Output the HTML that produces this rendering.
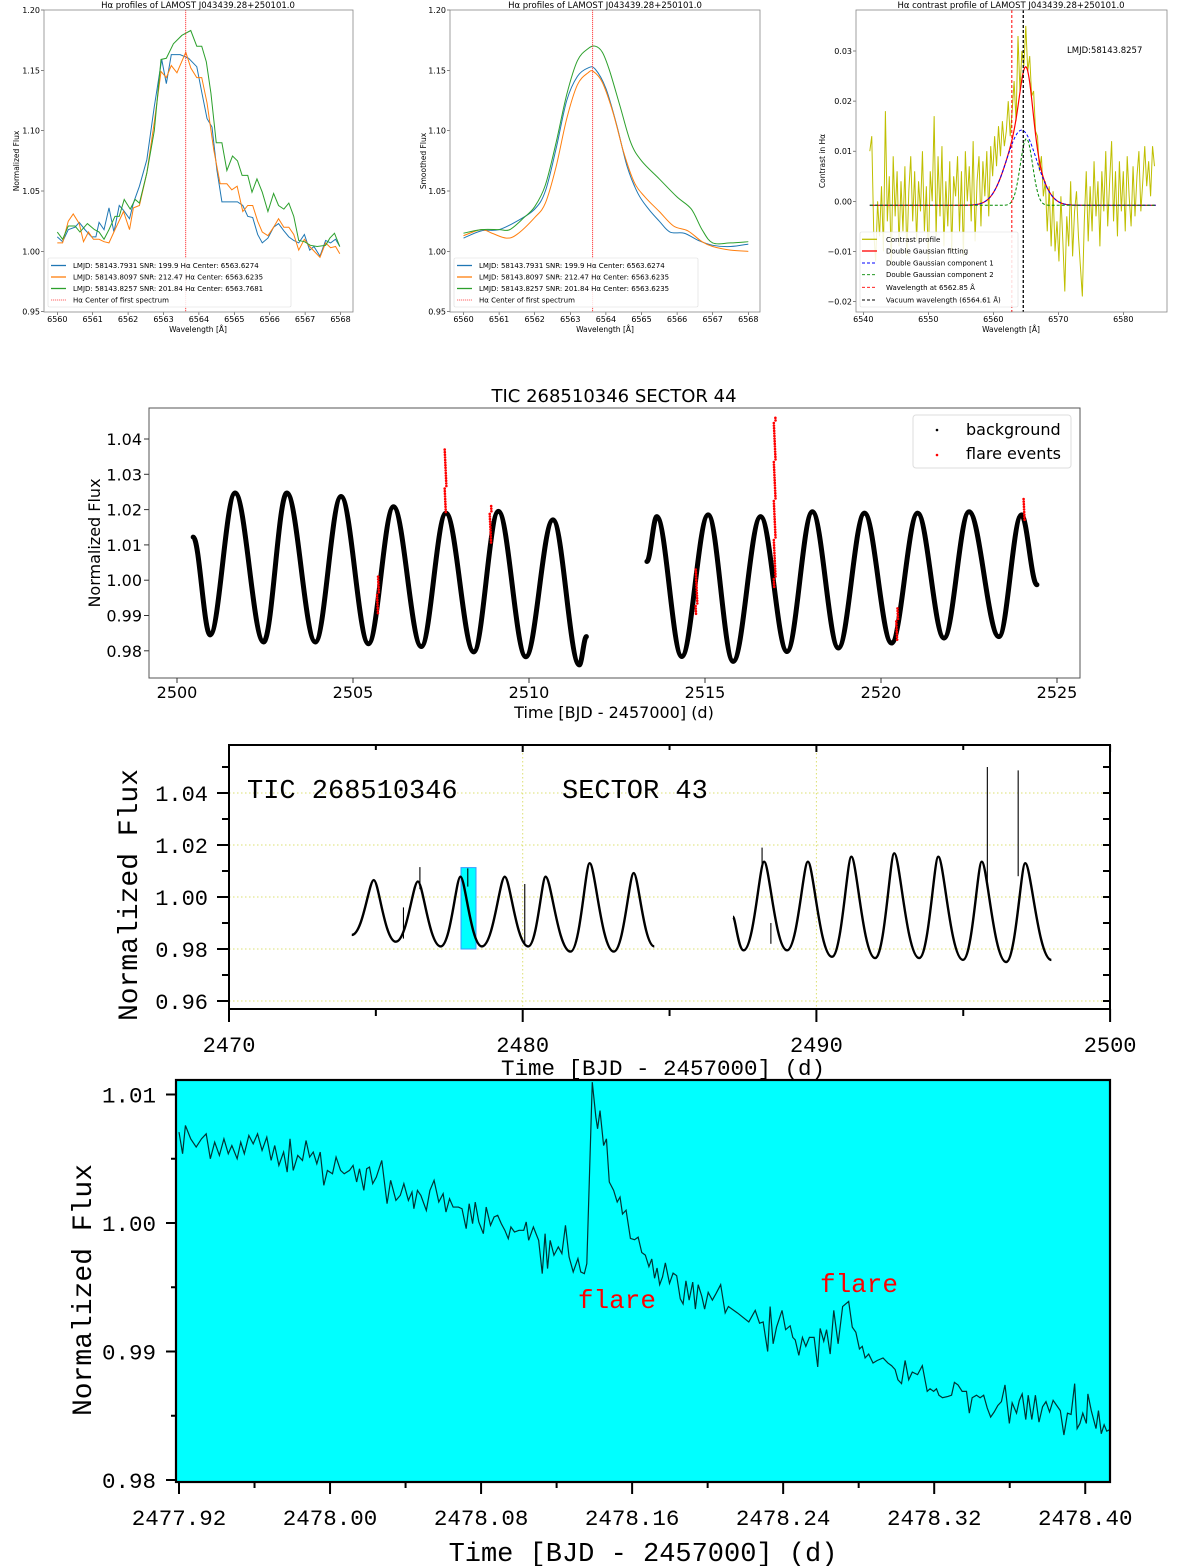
<!DOCTYPE html>
<html><head><meta charset="utf-8">
<style>
html,body{margin:0;padding:0;background:#fff;}
svg{display:block;}
.dj{font-family:"DejaVu Sans","Liberation Sans",sans-serif;}
.mo{font-family:"Liberation Mono","Noto Sans CJK SC",monospace;}
</style></head>
<body>
<svg id="fig" width="1200" height="1566" viewBox="0 0 1200 1566" xmlns="http://www.w3.org/2000/svg">
<rect width="1200" height="1566" fill="#fff"/>
<g>
<text class="dj" x="198" y="8" font-size="8.5" text-anchor="middle">Hα profiles of LAMOST J043439.28+250101.0</text>
<text class="dj" x="198" y="332" font-size="7.5" text-anchor="middle">Wavelength [Å]</text>
<text class="dj" font-size="7.5" text-anchor="middle" transform="translate(19,161) rotate(-90)">Normalized Flux</text>
</g>
<g>
<text class="dj" x="605" y="8" font-size="8.5" text-anchor="middle">Hα profiles of LAMOST J043439.28+250101.0</text>
<text class="dj" x="605" y="332" font-size="7.5" text-anchor="middle">Wavelength [Å]</text>
<text class="dj" font-size="7.5" text-anchor="middle" transform="translate(426,161) rotate(-90)">Smoothed Flux</text>
</g>
<g>
<text class="dj" x="1011" y="8" font-size="8.5" text-anchor="middle">Hα contrast profile of LAMOST J043439.28+250101.0</text>
<text class="dj" x="1011" y="332" font-size="7.5" text-anchor="middle">Wavelength [Å]</text>
<text class="dj" font-size="7.5" text-anchor="middle" transform="translate(825,161) rotate(-90)">Contrast in Hα</text>
<text class="dj" x="1067" y="53" font-size="8.5">LMJD:58143.8257</text>
</g>
<g>
<text class="dj" x="614" y="402" font-size="18" text-anchor="middle">TIC 268510346 SECTOR 44</text>
<text class="dj" x="614" y="718" font-size="16" text-anchor="middle">Time [BJD - 2457000] (d)</text>
<text class="dj" font-size="16" text-anchor="middle" transform="translate(100,543) rotate(-90)">Normalized Flux</text>
</g>
<g>
<text class="mo" x="663" y="1075" font-size="22.5" text-anchor="middle">Time [BJD - 2457000] (d)</text>
<text class="mo" font-size="28" text-anchor="middle" transform="translate(137,895) rotate(-90)">Normalized Flux</text>
</g>
<g>
<text class="mo" x="643" y="1561" font-size="27" text-anchor="middle">Time [BJD - 2457000] (d)</text>
<text class="mo" font-size="28" text-anchor="middle" transform="translate(91,1290) rotate(-90)">Normalized Flux</text>
</g>
</svg>
<script>
// ---------- DATA ----------
const p1BlueW=[6560.0,6560.15,6560.31,6560.5,6560.62,6560.78,6560.97,6561.09,6561.18,6561.32,6561.46,6561.6,6561.75,6561.87,6562.04,6562.15,6562.32,6562.53,6562.74,6562.95,6563.08,6563.22,6563.47,6563.71,6563.94,6564.08,6564.23,6564.37,6564.51,6564.65,6564.79,6565.09,6565.24,6565.38,6565.52,6565.66,6565.79,6565.95,6566.11,6566.25,6566.4,6566.54,6566.68,6566.82,6566.98,6567.13,6567.25,6567.42,6567.58,6567.72,6567.86,6567.98];
const p1BlueF=[1.012,1.008,1.018,1.020,1.024,1.018,1.012,1.012,1.024,1.018,1.036,1.016,1.038,1.034,1.027,1.040,1.054,1.076,1.120,1.159,1.139,1.163,1.163,1.160,1.153,1.132,1.110,1.103,1.067,1.041,1.041,1.041,1.038,1.029,1.028,1.014,1.007,1.011,1.020,1.023,1.017,1.012,1.009,1.007,1.014,1.001,1.004,0.996,1.009,1.007,1.010,1.004];
const p1OrangeW=[6560.0,6560.15,6560.31,6560.45,6560.62,6560.74,6560.88,6561.02,6561.18,6561.32,6561.46,6561.63,6561.87,6562.04,6562.15,6562.32,6562.53,6562.74,6562.93,6563.08,6563.22,6563.38,6563.63,6563.77,6563.94,6564.08,6564.23,6564.42,6564.6,6564.79,6564.93,6565.08,6565.24,6565.38,6565.52,6565.66,6565.79,6565.95,6566.11,6566.25,6566.4,6566.54,6566.68,6566.82,6566.98,6567.13,6567.42,6567.58,6567.72,6567.86,6567.98];
const p1OrangeF=[1.007,1.007,1.025,1.031,1.023,1.008,1.016,1.010,1.010,1.008,1.007,1.018,1.033,1.018,1.036,1.038,1.065,1.107,1.149,1.144,1.154,1.148,1.165,1.152,1.144,1.144,1.123,1.084,1.056,1.056,1.051,1.054,1.033,1.038,1.038,1.025,1.016,1.013,1.020,1.027,1.020,1.020,1.014,1.001,1.010,1.004,0.995,1.007,1.003,1.004,0.998];
const p1GreenW=[6560.0,6560.15,6560.31,6560.5,6560.64,6560.85,6561.05,6561.18,6561.32,6561.46,6561.63,6561.75,6561.89,6562.06,6562.2,6562.32,6562.53,6562.74,6562.93,6563.08,6563.28,6563.52,6563.77,6563.94,6564.08,6564.21,6564.34,6564.49,6564.65,6564.79,6564.95,6565.09,6565.22,6565.38,6565.5,6565.64,6565.79,6565.95,6566.11,6566.25,6566.4,6566.54,6566.68,6566.82,6566.98,6567.15,6567.34,6567.58,6567.7,6567.83,6567.98];
const p1GreenF=[1.016,1.010,1.021,1.021,1.016,1.023,1.018,1.016,1.010,1.018,1.029,1.029,1.043,1.035,1.043,1.040,1.065,1.100,1.159,1.160,1.172,1.179,1.183,1.170,1.170,1.157,1.131,1.090,1.090,1.067,1.079,1.075,1.063,1.063,1.049,1.060,1.049,1.033,1.048,1.038,1.035,1.040,1.029,1.009,1.008,1.005,1.004,1.005,1.011,1.015,1.004];
const p1Center=6563.6274;
const p2BlueW=[6560,6560.5,6561,6561.5,6562,6562.3,6562.6,6562.9,6563.2,6563.5,6563.7,6564,6564.3,6564.6,6564.9,6565.2,6565.5,6565.8,6566.2,6566.6,6567,6567.5,6568];
const p2BlueF=[1.011,1.017,1.018,1.025,1.035,1.05,1.085,1.125,1.145,1.152,1.151,1.135,1.105,1.07,1.048,1.035,1.025,1.016,1.015,1.009,1.005,1.004,1.006];
const p2OrangeW=[6560,6560.5,6560.8,6561.2,6561.5,6562,6562.3,6562.6,6562.9,6563.2,6563.5,6563.65,6563.9,6564.2,6564.5,6564.8,6565.1,6565.5,6565.9,6566.3,6566.7,6567,6567.5,6568];
const p2OrangeF=[1.013,1.018,1.015,1.011,1.014,1.028,1.04,1.07,1.11,1.138,1.148,1.149,1.14,1.115,1.082,1.057,1.045,1.033,1.021,1.017,1.008,1.004,1.001,1.000];
const p2GreenW=[6560,6560.5,6561,6561.3,6561.7,6562,6562.3,6562.6,6562.9,6563.2,6563.5,6563.7,6563.9,6564.1,6564.4,6564.7,6565,6565.5,6566,6566.4,6566.7,6567,6567.5,6568];
const p2GreenF=[1.015,1.018,1.018,1.018,1.028,1.037,1.055,1.09,1.13,1.158,1.168,1.170,1.165,1.15,1.12,1.09,1.075,1.06,1.045,1.035,1.018,1.007,1.007,1.008];
const c3Start=6541.0, c3Step=0.3;
const c3Values=[0.010,0.013,-0.006,-0.012,0.000,-0.007,0.003,-0.010,0.018,-0.004,0.005,-0.013,0.009,-0.003,0.006,-0.009,0.004,-0.006,0.007,-0.011,0.002,0.009,-0.004,0.006,-0.008,0.004,-0.002,0.010,-0.006,0.003,-0.012,0.006,0.000,0.017,-0.007,0.009,-0.003,0.011,-0.009,0.004,-0.005,0.008,-0.010,0.005,0.001,0.009,-0.006,0.006,-0.011,0.010,0.000,0.007,-0.004,0.012,-0.008,0.004,0.009,-0.005,0.008,0.001,0.010,-0.003,0.011,0.005,0.013,0.007,0.015,0.009,0.016,0.011,0.014,0.020,0.013,0.018,0.024,0.016,0.033,0.022,0.030,0.027,0.035,0.026,0.029,0.021,0.022,0.014,0.013,0.006,0.009,0.001,0.004,-0.006,0.003,-0.009,0.002,-0.010,-0.004,-0.012,0.001,-0.008,-0.018,-0.003,-0.009,0.004,-0.011,-0.002,0.002,-0.007,-0.013,-0.019,-0.004,0.006,-0.008,0.003,-0.006,0.008,-0.003,0.004,-0.009,0.006,-0.002,0.010,-0.005,0.004,0.012,-0.004,0.006,-0.007,0.008,-0.002,0.006,-0.006,0.009,0.001,-0.005,0.007,-0.003,0.005,0.010,-0.002,0.004,0.011,0.003,0.008,0.001,0.011,0.007];
const g1Amp=0.0150, g1Mu=6564.35, g1Sig=2.3;
const g2Amp=0.0133, g2Mu=6565.1, g2Sig=0.95;
const gBase=-0.0008;
const lineRest=6562.85, lineVac=6564.61;
const s44aT=[2500.46,2500.94,2501.65,2502.46,2503.12,2503.93,2504.66,2505.44,2506.15,2506.94,2507.64,2508.43,2509.13,2509.91,2510.68,2511.43,2511.63];
const s44aF=[1.0122,0.9845,1.0247,0.9825,1.0247,0.9825,1.0237,0.9820,1.0208,0.9812,1.0190,0.9797,1.0195,0.9783,1.0171,0.9760,0.9840];
const s44bT=[2513.35,2513.63,2514.34,2515.09,2515.80,2516.58,2517.33,2518.05,2518.79,2519.53,2520.30,2521.04,2521.79,2522.50,2523.35,2523.99,2524.43];
const s44bF=[1.0053,1.018,0.9784,1.0185,0.977,1.018,0.9798,1.0194,0.9808,1.019,0.9822,1.019,0.9836,1.0194,0.984,1.0185,0.9987];
const flareT=[2505.7,2507.62,2508.9,2514.75,2516.97,2520.45,2524.05];
const flareLo=[0.990,1.019,1.010,0.990,0.998,0.983,1.017];
const flareHi=[1.001,1.037,1.021,1.003,1.046,0.992,1.023];
const s44XTicks=[2500,2505,2510,2515,2520,2525];
const s44YTicks=[0.98,0.99,1.00,1.01,1.02,1.03,1.04];
const s43aT=[2474.18,2474.93,2475.68,2476.43,2477.21,2477.88,2478.61,2479.39,2480.19,2480.78,2481.63,2482.28,2483.10,2483.78,2484.48];
const s43aF=[0.9854,1.0065,0.9828,1.006,0.981,1.0078,0.981,1.0078,0.981,1.0078,0.979,1.013,0.979,1.0092,0.981];
const s43bT=[2487.16,2487.52,2488.22,2489.0,2489.71,2490.53,2491.19,2492.0,2492.65,2493.5,2494.15,2494.99,2495.63,2496.46,2497.11,2498.0];
const s43bF=[0.9924,0.9795,1.0136,0.9795,1.0136,0.977,1.0155,0.9765,1.0168,0.9765,1.0155,0.9758,1.0136,0.975,1.013,0.9758];
const spikeT=[2475.94,2476.5,2478.13,2480.07,2488.15,2488.45,2495.82,2496.87];
const spikeBase=[0.984,1.003,1.004,0.982,1.012,0.982,1.005,1.008];
const spikeTop=[0.996,1.0115,1.011,1.005,1.019,0.990,1.050,1.0487];
const zoomBoxT=[2477.90,2478.41];
const zoomBoxF=[0.980,1.0113];
const s43XTicks=[2470,2480,2490,2500];
const s43YTicks=[0.96,0.98,1.00,1.02,1.04];
const zT=[2477.9200,2477.9219,2477.9234,2477.9262,2477.9291,2477.9319,2477.9344,2477.9366,2477.9389,2477.9414,2477.9438,2477.9461,2477.9480,2477.9508,2477.9527,2477.9546,2477.9570,2477.9593,2477.9616,2477.9640,2477.9665,2477.9688,2477.9707,2477.9729,2477.9754,2477.9773,2477.9788,2477.9805,2477.9829,2477.9854,2477.9873,2477.9892,2477.9911,2477.9930,2477.9948,2477.9967,2477.9986,2478.0013,2478.0032,2478.0056,2478.0075,2478.0103,2478.0122,2478.0141,2478.0156,2478.0179,2478.0194,2478.0209,2478.0226,2478.0245,2478.0274,2478.0302,2478.0321,2478.0349,2478.0372,2478.0391,2478.0415,2478.0434,2478.0444,2478.0463,2478.0481,2478.0510,2478.0529,2478.0551,2478.0576,2478.0599,2478.0614,2478.0633,2478.0652,2478.0680,2478.0699,2478.0721,2478.0737,2478.0755,2478.0769,2478.0788,2478.0812,2478.0827,2478.0850,2478.0869,2478.0888,2478.0907,2478.0926,2478.0944,2478.0958,2478.0977,2478.1001,2478.1026,2478.1039,2478.1052,2478.1077,2478.1105,2478.1124,2478.1139,2478.1152,2478.1166,2478.1186,2478.1209,2478.1228,2478.1247,2478.1266,2478.1288,2478.1313,2478.1328,2478.1347,2478.1360,2478.1389,2478.1408,2478.1417,2478.1430,2478.1449,2478.1464,2478.1479,2478.1502,2478.1521,2478.1536,2478.1549,2478.1568,2478.1591,2478.1613,2478.1632,2478.1651,2478.1670,2478.1689,2478.1704,2478.1719,2478.1732,2478.1746,2478.1761,2478.1776,2478.1798,2478.1817,2478.1836,2478.1855,2478.1870,2478.1885,2478.1902,2478.1921,2478.1935,2478.1950,2478.1969,2478.1984,2478.2003,2478.2025,2478.2044,2478.2069,2478.2093,2478.2110,2478.2158,2478.2218,2478.2252,2478.2275,2478.2294,2478.2318,2478.2331,2478.2347,2478.2365,2478.2394,2478.2413,2478.2437,2478.2451,2478.2464,2478.2483,2478.2502,2478.2520,2478.2539,2478.2564,2478.2583,2478.2596,2478.2615,2478.2630,2478.2649,2478.2668,2478.2691,2478.2715,2478.2747,2478.2766,2478.2785,2478.2804,2478.2819,2478.2834,2478.2853,2478.2876,2478.2898,2478.2929,2478.2955,2478.2974,2478.2993,2478.3008,2478.3027,2478.3046,2478.3065,2478.3084,2478.3112,2478.3137,2478.3163,2478.3178,2478.3197,2478.3212,2478.3225,2478.3244,2478.3273,2478.3292,2478.3307,2478.3326,2478.3348,2478.3371,2478.3386,2478.3401,2478.3424,2478.3443,2478.3462,2478.3481,2478.3499,2478.3518,2478.3537,2478.3556,2478.3575,2478.3598,2478.3613,2478.3636,2478.3651,2478.3666,2478.3685,2478.3698,2478.3717,2478.3736,2478.3755,2478.3774,2478.3792,2478.3811,2478.3830,2478.3849,2478.3868,2478.3887,2478.3906,2478.3925,2478.3944,2478.3957,2478.3972,2478.3987,2478.4006,2478.4014,2478.4032,2478.4057,2478.4070,2478.4085,2478.4100,2478.4114,2478.4127];
const zF=[1.00707,1.00539,1.00759,1.00655,1.00591,1.00655,1.00694,1.00500,1.00629,1.00526,1.00655,1.00539,1.00603,1.00500,1.00629,1.00539,1.00681,1.00616,1.00694,1.00565,1.00668,1.00487,1.00603,1.00448,1.00552,1.00396,1.00655,1.00409,1.00526,1.00487,1.00642,1.00513,1.00552,1.00461,1.00552,1.00293,1.00409,1.00383,1.00513,1.00409,1.00383,1.00409,1.00448,1.00319,1.00422,1.00254,1.00422,1.00435,1.00306,1.00357,1.00487,1.00150,1.00332,1.00176,1.00215,1.00306,1.00176,1.00241,1.00111,1.00254,1.00215,1.00098,1.00254,1.00332,1.00163,1.00228,1.00085,1.00189,1.00124,1.00124,1.00111,0.99956,1.00150,0.99995,1.00163,1.00008,0.99917,1.00124,0.99982,1.00047,1.00060,0.99995,0.99943,0.99878,0.99969,0.99930,0.99943,0.99943,1.00008,0.99865,0.99969,0.99865,0.99606,0.99917,0.99645,0.99865,0.99749,0.99814,0.99762,0.99982,0.99736,0.99619,0.99723,0.99619,0.99606,0.99684,1.01096,1.00824,1.00733,1.00875,1.00603,1.00655,1.00319,1.00254,1.00163,1.00202,1.0007,1.0010,0.9988,0.9987,0.9989,0.9977,0.9975,0.9966,0.9972,0.9957,0.9965,0.9952,0.9958,0.9969,0.9953,0.9961,0.9959,0.9941,0.9937,0.9955,0.9940,0.9954,0.9933,0.9952,0.9943,0.9933,0.9946,0.9940,0.9945,0.9952,0.9930,0.9935,0.9930,0.9923,0.9932,0.9922,0.9923,0.9900,0.9935,0.9906,0.9919,0.9932,0.9917,0.9920,0.9911,0.9909,0.9897,0.9911,0.9904,0.9911,0.9911,0.9888,0.9918,0.9908,0.9917,0.9898,0.9932,0.9906,0.9935,0.9939,0.9919,0.9915,0.9902,0.9904,0.9895,0.9898,0.9891,0.9893,0.9895,0.9891,0.9889,0.9886,0.9878,0.9875,0.9893,0.9878,0.9884,0.9882,0.9889,0.9869,0.9871,0.9869,0.9871,0.9866,0.9864,0.9865,0.9866,0.9876,0.9874,0.9869,0.9869,0.9852,0.9864,0.9866,0.9864,0.9866,0.9856,0.9849,0.9853,0.9858,0.9861,0.9874,0.9844,0.9860,0.9852,0.9862,0.9867,0.9847,0.9866,0.9847,0.9866,0.9845,0.9857,0.9861,0.9853,0.9862,0.9858,0.9854,0.9835,0.9852,0.9851,0.9875,0.9840,0.9844,0.9852,0.9844,0.9867,0.9854,0.9840,0.9854,0.9836,0.9843,0.9838,0.9839];
const zXTicks=[2477.92,2478.00,2478.08,2478.16,2478.24,2478.32,2478.40];
const zXLabels=["2477.92","2478.00","2478.08","2478.16","2478.24","2478.32","2478.40"];
const zYTicks=[0.98,0.99,1.00,1.01];
const zYLabels=["0.98","0.99","1.00","1.01"];
const flareLabelT=[2478.1313,2478.2595];
const flareLabelF=[0.99339,0.99463];

// ---------- HELPERS ----------
const NS='http://www.w3.org/2000/svg';
const svg=document.getElementById('fig');
function el(tag,attrs,parent){const e=document.createElementNS(NS,tag);for(const k in attrs)e.setAttribute(k,attrs[k]);(parent||svg).appendChild(e);return e;}
function polyD(xs,ys,sx,sy){let d='';for(let i=0;i<xs.length;i++){d+=(i?'L':'M')+sx(xs[i]).toFixed(2)+','+sy(ys[i]).toFixed(2);}return d;}
function smoothD(xs,ys,sx,sy,peakK,troughK){
  let d='M'+sx(xs[0]).toFixed(2)+','+sy(ys[0]).toFixed(2);
  for(let i=1;i<xs.length;i++){
    const x0=sx(xs[i-1]),y0=sy(ys[i-1]),x1=sx(xs[i]),y1=sy(ys[i]);const dx=x1-x0;
    const k0=ys[i-1]>ys[i]?peakK:troughK;const k1=ys[i]>ys[i-1]?peakK:troughK;
    d+='C'+(x0+dx*k0).toFixed(2)+','+y0.toFixed(2)+' '+(x1-dx*k1).toFixed(2)+','+y1.toFixed(2)+' '+x1.toFixed(2)+','+y1.toFixed(2);
  }
  return d;}
function catmull(xs,ys,sx,sy){const P=xs.map((x,i)=>[sx(x),sy(ys[i])]);let d='M'+P[0][0]+','+P[0][1];
  for(let i=0;i<P.length-1;i++){const p0=P[Math.max(0,i-1)],p1=P[i],p2=P[i+1],p3=P[Math.min(P.length-1,i+2)];
  d+='C'+(p1[0]+(p2[0]-p0[0])/6)+','+(p1[1]+(p2[1]-p0[1])/6)+' '+(p2[0]-(p3[0]-p1[0])/6)+','+(p2[1]-(p3[1]-p1[1])/6)+' '+p2[0]+','+p2[1];}return d;}

// ---------- TOP PANELS ----------
const ys1=f=>10+(1.2-f)*1206.7;
const xs1=w=>57.3+(w-6560)*35.4;
const xs2=w=>463.5+(w-6560)*35.6;
const xs3=w=>863.3+(w-6540)*6.5;
const ys3=v=>201.3-v*5010;
const fluxTicks=[0.95,1.00,1.05,1.10,1.15,1.20];
const wlTicks=[6560,6561,6562,6563,6564,6565,6566,6567,6568];
const c3YTicks=[-0.02,-0.01,0.00,0.01,0.02,0.03];
const c3XTicks=[6540,6550,6560,6570,6580];
const BLUE='#1f77b4',ORANGE='#ff7f0e',GREEN='#2ca02c';

function topAxes(name,x0,x1,ysc,yt,ylab,xsc,xt,clipId){
  const g=el('g',{});
  
  
  const cp=el('clipPath',{id:clipId},g);
  el('rect',{x:x0,y:10,width:x1-x0,height:302},cp);
  for(let i=0;i<yt.length;i++){const y=ysc(yt[i]);
    const t=el('line',{x1:x0-3,x2:x0,y1:y,y2:y,stroke:'#333','stroke-width':0.6},g);
    
    
    const lb=el('text',{x:x0-4,y:y+3,'font-size':8,'text-anchor':'end',class:'dj'},g);
    lb.textContent=ylab[i];
    
    }
  for(const w of xt){const x=xsc(w);
    const t=el('line',{x1:x,x2:x,y1:312,y2:315,stroke:'#333','stroke-width':0.6},g);
    
    
    const lb=el('text',{x:x,y:322,'font-size':8,'text-anchor':'middle',class:'dj'},g);
    lb.textContent=String(w);
    
    }
  return g;}
function frame(name,x0,x1){const r=el('rect',{x:x0,y:10,width:x1-x0,height:302,fill:'none',stroke:'#888','stroke-width':0.8});
  
  }

const g1=topAxes('panel1',44,353,ys1,fluxTicks,fluxTicks.map(v=>v.toFixed(2)),xs1,wlTicks,'c1');
const p1Series=[[p1BlueW,p1BlueF,BLUE,'panel1-blue-line'],[p1OrangeW,p1OrangeF,ORANGE,'panel1-orange-line'],[p1GreenW,p1GreenF,GREEN,'panel1-green-line']];
for(const s of p1Series){const p=el('path',{d:polyD(s[0],s[1],xs1,ys1),fill:'none',stroke:s[2],'stroke-width':1,'clip-path':'url(#c1)'},g1);
  
  }
const cl1=el('line',{x1:xs1(p1Center),x2:xs1(p1Center),y1:10,y2:312,stroke:'#f33','stroke-width':0.9,'stroke-dasharray':'1.2,0.8'},g1);


frame('panel1',44,353);
const g2=topAxes('panel2',450,760,ys1,fluxTicks,fluxTicks.map(v=>v.toFixed(2)),xs2,wlTicks,'c2');
const p2Series=[[p2BlueW,p2BlueF,BLUE,'panel2-blue-line'],[p2OrangeW,p2OrangeF,ORANGE,'panel2-orange-line'],[p2GreenW,p2GreenF,GREEN,'panel2-green-line']];
for(const s of p2Series){const p=el('path',{d:catmull(s[0],s[1],xs2,ys1),fill:'none',stroke:s[2],'stroke-width':1,'clip-path':'url(#c2)'},g2);
  
  }
const cl2=el('line',{x1:xs2(p1Center),x2:xs2(p1Center),y1:10,y2:312,stroke:'#f33','stroke-width':0.9,'stroke-dasharray':'1.2,0.8'},g2);


frame('panel2',450,760);
const g3=topAxes('panel3',856,1167,ys3,c3YTicks,c3YTicks.map(v=>(v<0?'\u22120.0'+Math.round(-v*100):v.toFixed(2))),xs3,c3XTicks,'c3');
const c3W=c3Values.map((v,i)=>c3Start+i*c3Step);
const cp3=el('path',{d:polyD(c3W,c3Values,xs3,ys3),fill:'none',stroke:'#bfbf00','stroke-width':1,'clip-path':'url(#c3)'},g3);


const gw=[],gr=[],gb=[],gg=[];
for(let w=6541;w<=6585.001;w+=0.1){const a=g1Amp*Math.exp(-((w-g1Mu)**2)/(2*g1Sig*g1Sig)),b=g2Amp*Math.exp(-((w-g2Mu)**2)/(2*g2Sig*g2Sig));gw.push(w);gr.push(gBase+a+b);gb.push(gBase+a);gg.push(gBase+b);}
const fitR=el('path',{d:polyD(gw,gr,xs3,ys3),fill:'none',stroke:'#f00','stroke-width':1.2},g3);


const fitB=el('path',{d:polyD(gw,gb,xs3,ys3),fill:'none',stroke:'#00f','stroke-width':1,'stroke-dasharray':'3,2'},g3);


const fitG=el('path',{d:polyD(gw,gg,xs3,ys3),fill:'none',stroke:'#080','stroke-width':1,'stroke-dasharray':'3,2'},g3);


const vr=el('line',{x1:xs3(lineRest),x2:xs3(lineRest),y1:10,y2:312,stroke:'#f00','stroke-width':1,'stroke-dasharray':'3,2'},g3);


const vv=el('line',{x1:xs3(lineVac),x2:xs3(lineVac),y1:10,y2:312,stroke:'#000','stroke-width':1.3,'stroke-dasharray':'3,2'},g3);


frame('panel3',856,1167);

function legend(name,x,y,w,h,rows,lx,tx){const g=el('g',{});
  
  
  el('rect',{x:x,y:y,width:w,height:h,fill:'#fff','fill-opacity':0.85,stroke:'#ddd','stroke-width':0.6,rx:1.5},g);
  for(const r of rows){const ln=el('line',{x1:lx,x2:lx+15,y1:r[0],y2:r[0],stroke:r[1],'stroke-width':r[3]?0.9:1.3,'stroke-dasharray':r[3]||'none'},g);
    
    
    const t=el('text',{x:tx,y:r[0]+2.5,'font-size':7,class:'dj'},g);t.textContent=r[2];
    
    }}
legend('panel1-legend',48,258,243,49,[[265.5,BLUE,'LMJD: 58143.7931 SNR: 199.9 Hα Center: 6563.6274'],[277,ORANGE,'LMJD: 58143.8097 SNR: 212.47 Hα Center: 6563.6235'],[288.5,GREEN,'LMJD: 58143.8257 SNR: 201.84 Hα Center: 6563.7681'],[300,'#f66','Hα Center of first spectrum','1.2,0.8']],51,73);
legend('panel2-legend',454,258,244,49,[[265.5,BLUE,'LMJD: 58143.7931 SNR: 199.9 Hα Center: 6563.6274'],[277,ORANGE,'LMJD: 58143.8097 SNR: 212.47 Hα Center: 6563.6235'],[288.5,GREEN,'LMJD: 58143.8257 SNR: 201.84 Hα Center: 6563.6235'],[300,'#f66','Hα Center of first spectrum','1.2,0.8']],457,479);
legend('panel3-legend',860,232,158,75,[[239.3,'#bfbf00','Contrast profile'],[251,'#f00','Double Gaussian fitting'],[263,'#00f','Double Gaussian component 1','3,2'],[274.7,'#080','Double Gaussian component 2','3,2'],[287.3,'#f00','Wavelength at 6562.85 Å','3,2'],[300,'#000','Vacuum wavelength (6564.61 Å)','3,2']],862,886);

// ---------- SECTOR 44 ----------
const xs44=t=>177+(t-2500)*35.2;
const ys44=f=>439+(1.04-f)*3530;
const g44=el('g',{});


for(const s of [[s44aT,s44aF,'sector44-segment-1'],[s44bT,s44bF,'sector44-segment-2']]){
  const p=el('path',{d:smoothD(s[0],s[1],xs44,ys44,0.36,0.36),fill:'none',stroke:'#000','stroke-width':5,'stroke-linecap':'round'},g44);
  
  }
for(let i=0;i<flareT.length;i++){
  const y0=ys44(flareHi[i]),y1=ys44(flareLo[i]);
  for(let y=y0;y<=y1;y+=2.6){const c=el('circle',{cx:xs44(flareT[i])+((y*7)%3-1)*0.6,cy:y,r:1.3,fill:'#f00'},g44);
    
    }}
const f44=el('rect',{x:149,y:408,width:931,height:270,fill:'none',stroke:'#555','stroke-width':1},g44);


for(const t of s44XTicks){const x=xs44(t);
  const tk=el('line',{x1:x,x2:x,y1:678,y2:683,stroke:'#333','stroke-width':1},g44);
  
  
  const lb=el('text',{x:x,y:698,'font-size':16,'text-anchor':'middle',class:'dj'},g44);lb.textContent=String(t);
  
  }
for(const v of s44YTicks){const y=ys44(v);
  const tk=el('line',{x1:144,x2:149,y1:y,y2:y,stroke:'#333','stroke-width':1},g44);
  
  
  const lb=el('text',{x:142,y:y+6,'font-size':16,'text-anchor':'end',class:'dj'},g44);lb.textContent=v.toFixed(2);
  
  }
const lg44=el('g',{},g44);


el('rect',{x:913,y:415,width:158,height:53,fill:'#fff',stroke:'#ddd','stroke-width':1,rx:3},lg44);
const ld1=el('circle',{cx:937,cy:430,r:1.3,fill:'#000'},lg44);


const ld2=el('circle',{cx:937,cy:455,r:1.3,fill:'#f00'},lg44);


const lt1=el('text',{x:966,y:435,'font-size':16,class:'dj'},lg44);lt1.textContent='background';


const lt2=el('text',{x:966,y:459,'font-size':16,class:'dj'},lg44);lt2.textContent='flare events';



// ---------- SECTOR 43 ----------
const xs43=t=>229+(t-2470)*29.37;
const ys43=f=>897+(1-f)*2600;
const g43=el('g',{});


for(const v of s43YTicks){const gl=el('line',{x1:229,x2:1110,y1:ys43(v),y2:ys43(v),stroke:'#dde070','stroke-width':1,'stroke-dasharray':'1.5,2.5'},g43);
  
  }
for(const t of [2480,2490]){const gl=el('line',{x1:xs43(t),x2:xs43(t),y1:745,y2:1009,stroke:'#dde070','stroke-width':1,'stroke-dasharray':'1.5,2.5'},g43);
  
  }
const zb=el('rect',{x:xs43(zoomBoxT[0]),y:ys43(zoomBoxF[1]),width:xs43(zoomBoxT[1])-xs43(zoomBoxT[0]),height:ys43(zoomBoxF[0])-ys43(zoomBoxF[1]),fill:'#00ffff',stroke:'#3399ff','stroke-width':1},g43);


for(const s of [[s43aT,s43aF,'sector43-segment-1'],[s43bT,s43bF,'sector43-segment-2']]){
  const p=el('path',{d:smoothD(s[0],s[1],xs43,ys43,0.22,0.5),fill:'none',stroke:'#000','stroke-width':2.4},g43);
  
  }
for(let i=0;i<spikeT.length;i++){const sp=el('line',{x1:xs43(spikeT[i]),x2:xs43(spikeT[i]),y1:ys43(spikeBase[i]),y2:ys43(spikeTop[i]),stroke:'#000','stroke-width':1.1},g43);
  
  }
const f43=el('rect',{x:229,y:745,width:881,height:264,fill:'none',stroke:'#000','stroke-width':2},g43);


for(let t=2470;t<=2500;t+=5){const x=xs43(t);const maj=(t%10===0);
  const tb=el('line',{x1:x,x2:x,y1:1009,y2:maj?1022:1016,stroke:'#000','stroke-width':2},g43);
  
  
  const tt=el('line',{x1:x,x2:x,y1:745,y2:maj?752:750,stroke:'#000','stroke-width':2},g43);
  
  }
for(let k=0;k<s43XTicks.length;k++){const lb=el('text',{x:xs43(s43XTicks[k]),y:1052,'font-size':22,'text-anchor':'middle',class:'mo'},g43);lb.textContent=String(s43XTicks[k]);
  
  }
for(let v=0.96;v<=1.0501;v+=0.01){const y=ys43(v);const maj=Math.round(v*100)%2===0;
  const tl=el('line',{x1:maj?217:222,x2:229,y1:y,y2:y,stroke:'#000','stroke-width':2},g43);
  
  
  const tr=el('line',{x1:1103,x2:1110,y1:y,y2:y,stroke:'#000','stroke-width':2},g43);
  
  }
for(const v of s43YTicks){const lb=el('text',{x:208,y:ys43(v)+8,'font-size':22,'text-anchor':'end',class:'mo'},g43);lb.textContent=v.toFixed(2);
  
  }
const tt1=el('text',{x:247,y:798,'font-size':27,class:'mo'},g43);tt1.textContent='TIC 268510346';


const tt2=el('text',{x:562,y:798,'font-size':27,class:'mo'},g43);tt2.textContent='SECTOR 43';



// ---------- FLARE ZOOM ----------
const xsZ=t=>179+(t-2477.92)*1888;
const ysZ=f=>1223+(1-f)*12850;
const gz=el('g',{});


const bg=el('rect',{x:176,y:1080,width:934,height:402,fill:'#00ffff'},gz);


const zl=el('path',{d:polyD(zT,zF,xsZ,ysZ),fill:'none',stroke:'#003333','stroke-width':1.2},gz);


const fz=el('rect',{x:176,y:1080,width:934,height:402,fill:'none',stroke:'#000','stroke-width':2.2},gz);


for(let k=0;k<zXTicks.length;k++){const x=xsZ(zXTicks[k]);
  const tk=el('line',{x1:x,x2:x,y1:1482,y2:1494,stroke:'#000','stroke-width':2},gz);
  
  
  const mx=xsZ(zXTicks[k]+0.04);
  if(mx<1110){const mt=el('line',{x1:mx,x2:mx,y1:1482,y2:1488,stroke:'#000','stroke-width':2},gz);
    
    }
  const lb=el('text',{x:x,y:1525,'font-size':22.5,'text-anchor':'middle',class:'mo'},gz);lb.textContent=zXLabels[k];
  
  }
for(let k=0;k<zYTicks.length;k++){const y=ysZ(zYTicks[k]);
  const tk=el('line',{x1:166,x2:176,y1:y,y2:y,stroke:'#000','stroke-width':2},gz);
  
  
  if(k<zYTicks.length-1){const my=ysZ(zYTicks[k]+0.005);const mt=el('line',{x1:171,x2:176,y1:my,y2:my,stroke:'#000','stroke-width':2},gz);
    
    }
  const lb=el('text',{x:156,y:y+8,'font-size':22.5,'text-anchor':'end',class:'mo'},gz);lb.textContent=zYLabels[k];
  
  }
for(let k=0;k<flareLabelT.length;k++){const lb=el('text',{x:xsZ(flareLabelT[k]),y:ysZ(flareLabelF[k]),'font-size':26,fill:'#f00',class:'mo'},gz);lb.textContent='flare';
  
  }
</script>
</body></html>
